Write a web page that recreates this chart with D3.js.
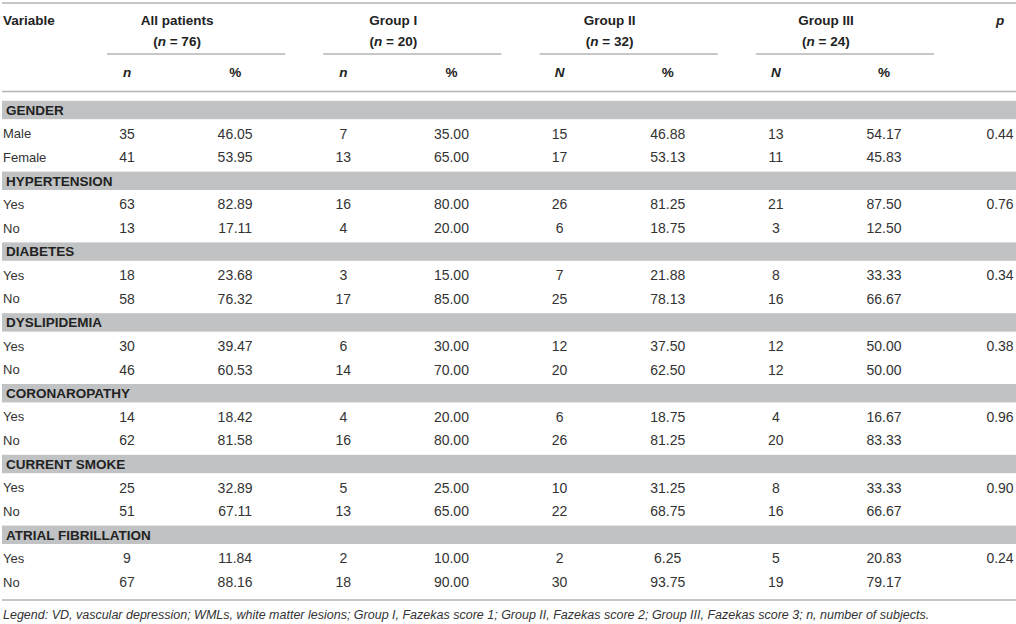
<!DOCTYPE html>
<html>
<head>
<meta charset="utf-8">
<script src="https://cdn.jsdelivr.net/npm/d3@7"></script>
<style>
  body { margin: 0; background: #fff; }
  text { font-family: "Liberation Sans", Arial, sans-serif; }
</style>
</head>
<body>
<svg id="table" width="1016" height="624"></svg>
<script>
// ----------------------
// 1. Data
// ----------------------
const sections = ["GENDER", "HYPERTENSION", "DIABETES", "DYSLIPIDEMIA",
  "CORONAROPATHY", "CURRENT SMOKE", "ATRIAL FIBRILLATION"];
const rowLabels = [["Male", "Female"], ["Yes", "No"], ["Yes", "No"], ["Yes", "No"],
  ["Yes", "No"], ["Yes", "No"], ["Yes", "No"]];

const allN   = [[35, 41], [63, 13], [18, 58], [30, 46], [14, 62], [25, 51], [9, 67]];
const allPct = [[46.05, 53.95], [82.89, 17.11], [23.68, 76.32], [39.47, 60.53],
  [18.42, 81.58], [32.89, 67.11], [11.84, 88.16]];
const g1N    = [[7, 13], [16, 4], [3, 17], [6, 14], [4, 16], [5, 13], [2, 18]];
const g1Pct  = [[35.00, 65.00], [80.00, 20.00], [15.00, 85.00], [30.00, 70.00],
  [20.00, 80.00], [25.00, 65.00], [10.00, 90.00]];
const g2N    = [[15, 17], [26, 6], [7, 25], [12, 20], [6, 26], [10, 22], [2, 30]];
const g2Pct  = [[46.88, 53.13], [81.25, 18.75], [21.88, 78.13], [37.50, 62.50],
  [18.75, 81.25], [31.25, 68.75], [6.25, 93.75]];
const g3N    = [[13, 11], [21, 3], [8, 16], [12, 12], [4, 20], [8, 16], [5, 19]];
const g3Pct  = [[54.17, 45.83], [87.50, 12.50], [33.33, 66.67], [50.00, 50.00],
  [16.67, 83.33], [33.33, 66.67], [20.83, 79.17]];
const pValues = ["0.44", "0.76", "0.34", "0.38", "0.96", "0.90", "0.24"];

const groups = [
  { name: "All patients", size: "76", nLabel: "n", n: allN, pct: allPct },
  { name: "Group I",      size: "20", nLabel: "n", n: g1N,  pct: g1Pct },
  { name: "Group II",     size: "32", nLabel: "N", n: g2N,  pct: g2Pct },
  { name: "Group III",    size: "24", nLabel: "N", n: g3N,  pct: g3Pct }
];

const legendText = "Legend: VD, vascular depression; WMLs, white matter lesions; Group I, Fazekas score 1; Group II, Fazekas score 2; Group III, Fazekas score 3; ";

// ----------------------
// 2. Layout
// ----------------------
const svg = d3.select("#table");
const W = +svg.attr("width");

const lineColor = "#b4b4b4";
const bandColor = "#c1c2c4";
const textColor = "#333";
const labelSize = 13;
const numSize = 14;
const headSize = 13.5;

// column positions: n / % for each group
const colKeys = [];
groups.forEach((g, i) => { colKeys.push(`n${i}`, `p${i}`); });
const x = d3.scalePoint().domain(colKeys).range([127, 884]);
const xP = 1000;

// rows: one band row + two data rows per section
const rows = [];
sections.forEach((s, si) => {
  rows.push({ type: "band", label: s, si });
  rowLabels[si].forEach((lab, ri) => rows.push({ type: "data", label: lab, si, ri }));
});
const y = d3.scaleLinear().domain([0, rows.length - 1]).range([110, 582]);

const hline = (y0, x0, x1) => svg.append("line")
  .attr("x1", x0).attr("x2", x1).attr("y1", y0).attr("y2", y0)
  .attr("stroke", lineColor).attr("stroke-width", 1.6);

// ----------------------
// 3. Header
// ----------------------
hline(3, 2, W);
hline(91.5, 2, W);

const head = svg.append("g")
  .attr("font-size", headSize).attr("font-weight", "bold").attr("fill", "#222");

head.append("text").attr("x", 3).attr("y", 20).attr("dy", "0.35em").text("Variable");
head.append("text").attr("x", xP).attr("y", 20).attr("dy", "0.35em")
  .attr("text-anchor", "middle").attr("font-style", "italic").text("p");

groups.forEach((g, i) => {
  const xn = x(`n${i}`), xp = x(`p${i}`);
  const mid = (xn + xp) / 2 - 4;
  head.append("text").attr("x", mid).attr("y", 20).attr("dy", "0.35em")
    .attr("text-anchor", "middle").text(g.name);
  const t = head.append("text").attr("x", mid).attr("y", 41).attr("dy", "0.35em")
    .attr("text-anchor", "middle");
  t.append("tspan").text("(");
  t.append("tspan").attr("font-style", "italic").text("n");
  t.append("tspan").text(` = ${g.size})`);
  hline(54, xn - 20, xp + 50);
  head.append("text").attr("x", xn).attr("y", 72).attr("dy", "0.35em")
    .attr("text-anchor", "middle").attr("font-style", "italic").text(g.nLabel);
  head.append("text").attr("x", xp).attr("y", 72).attr("dy", "0.35em")
    .attr("text-anchor", "middle").text("%");
});

// ----------------------
// 4. Body
// ----------------------
const body = svg.append("g").attr("font-size", numSize).attr("fill", textColor);

const rowG = body.selectAll("g.row")
  .data(rows)
  .join("g")
  .attr("class", "row")
  .attr("transform", (d, i) => `translate(0,${y(i)})`);

const bands = rowG.filter(d => d.type === "band");
bands.append("rect")
  .attr("x", 2).attr("y", -9.2)
  .attr("width", W - 2).attr("height", 18.4)
  .attr("fill", bandColor);
bands.append("text")
  .attr("x", 6).attr("dy", "0.36em")
  .attr("font-size", headSize)
  .attr("font-weight", "bold").attr("fill", "#222")
  .text(d => d.label);

const dataRows = rowG.filter(d => d.type === "data");
dataRows.append("text")
  .attr("x", 3).attr("dy", "0.36em")
  .attr("font-size", labelSize)
  .text(d => d.label);

groups.forEach((g, gi) => {
  dataRows.append("text")
    .attr("x", x(`n${gi}`)).attr("dy", "0.36em")
    .attr("text-anchor", "middle")
    .text(d => g.n[d.si][d.ri]);
  dataRows.append("text")
    .attr("x", x(`p${gi}`)).attr("dy", "0.36em")
    .attr("text-anchor", "middle")
    .text(d => g.pct[d.si][d.ri].toFixed(2));
});

dataRows.filter(d => d.ri === 0).append("text")
  .attr("x", xP).attr("dy", "0.36em")
  .attr("text-anchor", "middle")
  .text(d => pValues[d.si]);

// ----------------------
// 5. Footer
// ----------------------
hline(600, 2, W);

const legend = svg.append("text")
  .attr("x", 3).attr("y", 615).attr("dy", "0.35em")
  .attr("font-size", 12.5).attr("font-style", "italic").attr("fill", textColor);
legend.append("tspan").text(legendText);
legend.append("tspan").text("n");
legend.append("tspan").text(", number of subjects.");
</script>
</body>
</html>
